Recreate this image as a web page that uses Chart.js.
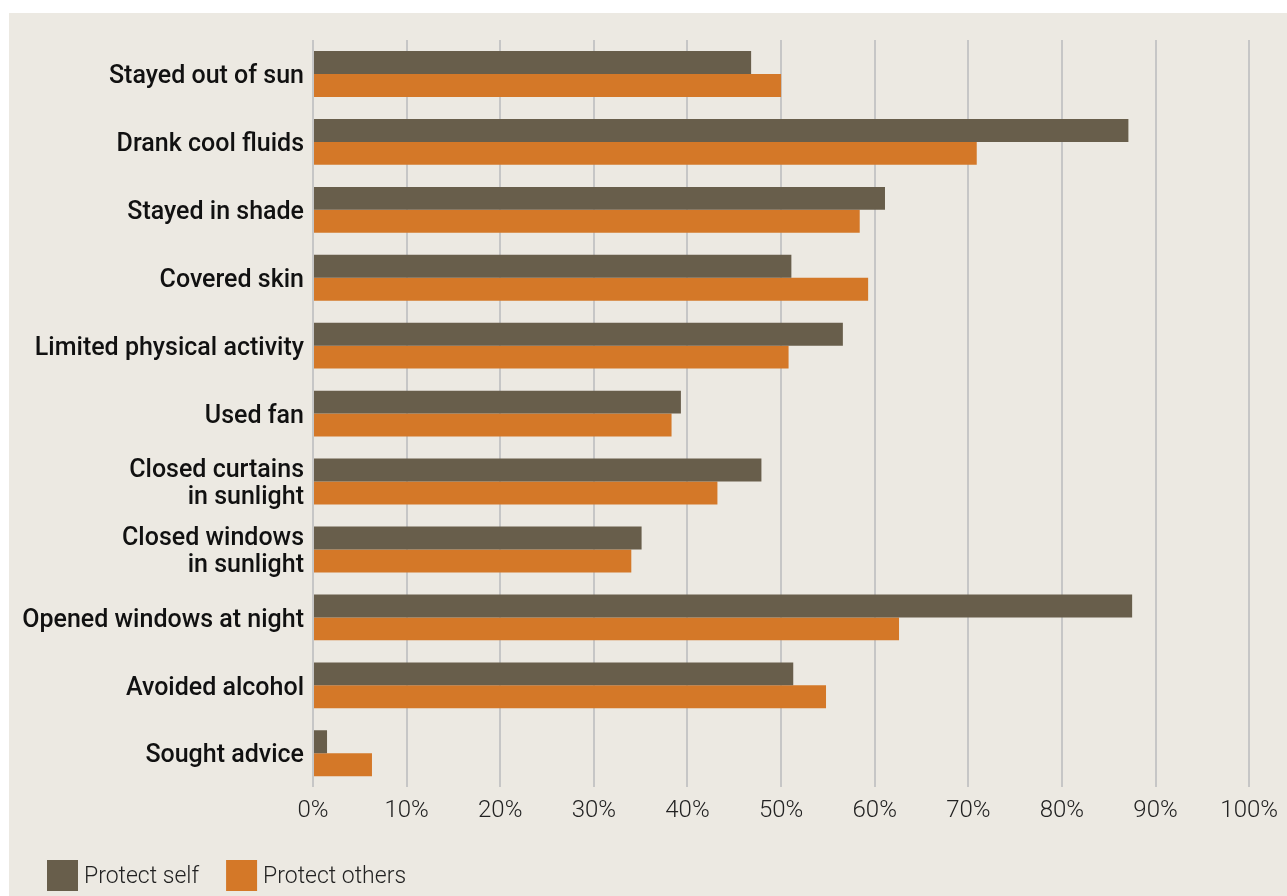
<!DOCTYPE html>
<html>
<head>
<meta charset="utf-8">
<script src="https://cdn.jsdelivr.net/npm/chart.js@4.4.1/dist/chart.umd.min.js"></script>
<style>
  html, body { margin: 0; padding: 0; background: #ffffff; }
  #panel {
    position: absolute; left: 9px; top: 13px;
    width: 1278px; height: 883px;
    background: #ece9e2;
  }
  #heatChart { display: block; }
</style>
</head>
<body>
<div id="panel"><canvas id="heatChart" width="1278" height="883"></canvas></div>
<script>
const actions = [
  'Stayed out of sun',
  'Drank cool fluids',
  'Stayed in shade',
  'Covered skin',
  'Limited physical activity',
  'Used fan',
  ['Closed curtains', 'in sunlight'],
  ['Closed windows', 'in sunlight'],
  'Opened windows at night',
  'Avoided alcohol',
  'Sought advice'
];
const protectSelf   = [46.8, 87.1, 61.1, 51.1, 56.6, 39.3, 47.9, 35.1, 87.5, 51.3, 1.5];
const protectOthers = [50.0, 70.9, 58.4, 59.3, 50.8, 38.3, 43.2, 34.0, 62.6, 54.8, 6.3];
const xTicks = [0, 10, 20, 30, 40, 50, 60, 70, 80, 90, 100];

// legend row under the axis: square swatches with light text beside them
const swatchLegend = {
  id: 'swatchLegend',
  afterDraw(chart) {
    const c = chart.ctx;
    const size = 31;
    let x = 38;
    const top = 847;
    c.save();
    c.font = '300 23px Roboto';
    c.textBaseline = 'middle';
    c.textAlign = 'left';
    chart.data.datasets.forEach(ds => {
      c.fillStyle = ds.backgroundColor;
      c.fillRect(x, top, size, size);
      c.fillStyle = '#222222';
      c.fillText(ds.label, x + size + 6, top + size / 2 + 2);
      x += size + 6 + c.measureText(ds.label).width + 27;
    });
    c.restore();
  }
};

const ctx = document.getElementById('heatChart').getContext('2d');

new Chart(ctx, {
  type: 'bar',
  data: {
    labels: actions,
    datasets: [
      {
        label: 'Protect self',
        data: protectSelf,
        backgroundColor: '#685e4b',
        borderWidth: 0
      },
      {
        label: 'Protect others',
        data: protectOthers,
        backgroundColor: '#d47828',
        borderWidth: 0
      }
    ]
  },
  plugins: [swatchLegend],
  options: {
    indexAxis: 'y',
    responsive: false,
    animation: false,
    categoryPercentage: 0.675,
    barPercentage: 1.0,
    layout: {
      padding: { top: 27, right: 32, bottom: 62, left: 0 }
    },
    plugins: {
      tooltip: { enabled: false },
      legend: { display: false }
    },
    scales: {
      x: {
        min: 0,
        max: 100,
        afterBuildTicks: function (scale) {
          scale.ticks = xTicks.map(v => ({ value: v }));
        },
        grid: {
          color: '#c6c6c6',
          lineWidth: 2,
          drawTicks: false
        },
        border: { display: false },
        ticks: {
          padding: 9,
          color: '#222222',
          font: { family: 'Roboto', size: 24, weight: '300', lineHeight: 1.2 },
          callback: function (value) {
            return value + '%';
          }
        }
      },
      y: {
        grid: { display: false, drawTicks: false },
        border: { display: false },
        afterFit: function (scale) {
          scale.width = 304;
        },
        ticks: {
          padding: 9,
          labelOffset: 3,
          color: '#111111',
          font: { family: 'Roboto', size: 25, weight: '500', lineHeight: 1.08 }
        }
      }
    }
  }
});
</script>
</body>
</html>
